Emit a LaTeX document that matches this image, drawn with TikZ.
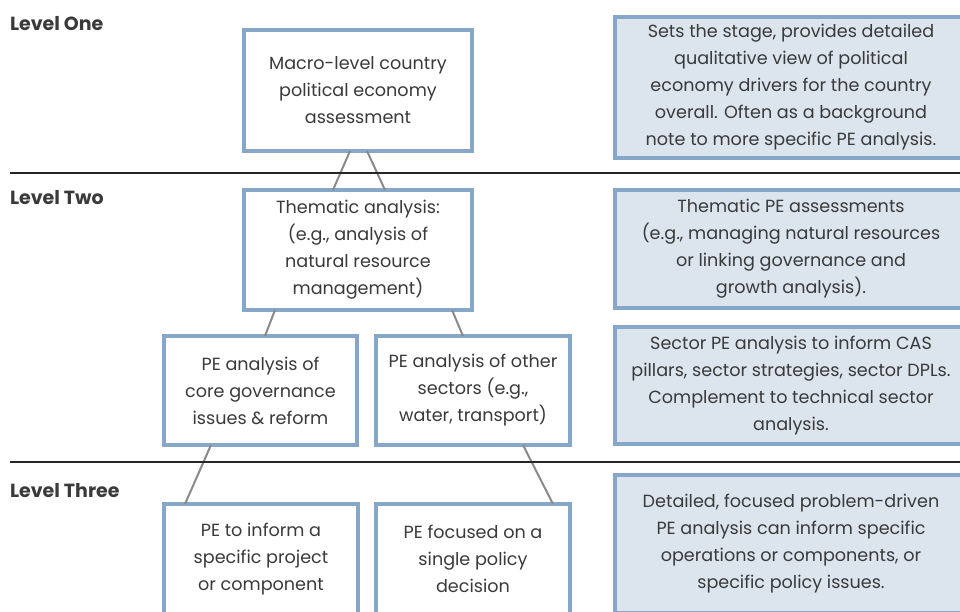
\documentclass[tikz,border=0pt]{standalone}
\usepackage{fontspec}
\setmainfont{Poppins}
\definecolor{boxline}{HTML}{87A7C9}
\definecolor{boxfill}{HTML}{DCE4EE}
\definecolor{txt}{HTML}{3A3A3A}
\definecolor{conn}{HTML}{8A8A8A}
\begin{document}
\begin{tikzpicture}[x=1pt,y=-1pt,
  every node/.style={inner sep=0pt, outer sep=0pt},
  lvbox/.style={draw=boxline, line width=4pt, fill=white, align=center, text=txt,
    font=\fontsize{17.6}{27}\selectfont},
  descbox/.style={lvbox, fill=boxfill, minimum width=352pt},
  levellabel/.style={anchor=base west, font=\fontsize{19}{22}\selectfont\bfseries, text=txt},
  rule/.style={draw=black!85, line width=2.4pt},
  connector/.style={draw=conn, line width=2pt}]
\useasboundingbox (0,0) rectangle (960,612);
\begin{scope}
\clip (0,0) rectangle (960,612);
% level labels
\node[levellabel] (l1) at (10,31) {Level One};
\node[levellabel] (l2) at (10,205) {Level Two};
\node[levellabel] (l3) at (10,497) {Level Three};
% rules
\coordinate (r1a) at (10,173); \coordinate (r1b) at (960,173);
\coordinate (r2a) at (10,462); \coordinate (r2b) at (960,462);
% boxes
\node[lvbox, minimum width=228pt, minimum height=121pt] (macro) at (358,90.5)
  {Macro-level country\\political economy\\assessment};
\node[lvbox, minimum width=228pt, minimum height=120pt] (them) at (358,250)
  {Thematic analysis:\\(e.g., analysis of\\natural resource\\management)};
\node[lvbox, minimum width=193pt, minimum height=109pt] (core) at (260.5,390.5)
  {PE analysis of\\core governance\\issues \& reform};
\node[lvbox, minimum width=194pt, minimum height=109pt] (other) at (473,390.5)
  {PE analysis of other\\sectors (e.g.,\\water, transport)};
\node[lvbox, minimum width=194pt, minimum height=110pt] (proj) at (261,559)
  {PE to inform a\\specific project\\or component};
\node[lvbox, minimum width=194pt, minimum height=110pt] (policy) at (473,559)
  {PE focused on a\\single policy\\decision};
% descriptions
\node[descbox, minimum height=141pt] (d1) at (791,87.5)
  {Sets the stage, provides detailed\\qualitative view of political\\economy drivers for the country\\overall. Often as a background\\note to more specific PE analysis.};
\node[descbox, minimum height=118pt] (d2) at (791,249)
  {Thematic PE assessments\\(e.g., managing natural resources\\or linking governance and\\growth analysis).};
\node[descbox, minimum height=117pt] (d3) at (791,385.5)
  {Sector PE analysis to inform CAS\\pillars, sector strategies, sector DPLs.\\Complement to technical sector\\analysis.};
\node[descbox, minimum height=138pt] (d4) at (791,544)
  {Detailed, focused problem-driven\\PE analysis can inform specific\\operations or components, or\\specific policy issues.};
% connectors
\draw[connector] ([xshift=-8pt]macro.south) -- ([xshift=-25pt]them.north);
\draw[connector] ([xshift=9pt]macro.south) -- ([xshift=27pt]them.north);
\draw[connector] ([xshift=-83pt]them.south) -- ([xshift=4.5pt]core.north);
\draw[connector] ([xshift=94pt]them.south) -- ([xshift=-10pt]other.north);
\draw[connector] ([xshift=-49.5pt]core.south) -- ([xshift=-76pt]proj.north);
\draw[connector] ([xshift=50pt]other.south) -- ([xshift=80pt]policy.north);
\draw[rule] (r1a) -- (r1b);
\draw[rule] (r2a) -- (r2b);
\end{scope}
\end{tikzpicture}
\end{document}
